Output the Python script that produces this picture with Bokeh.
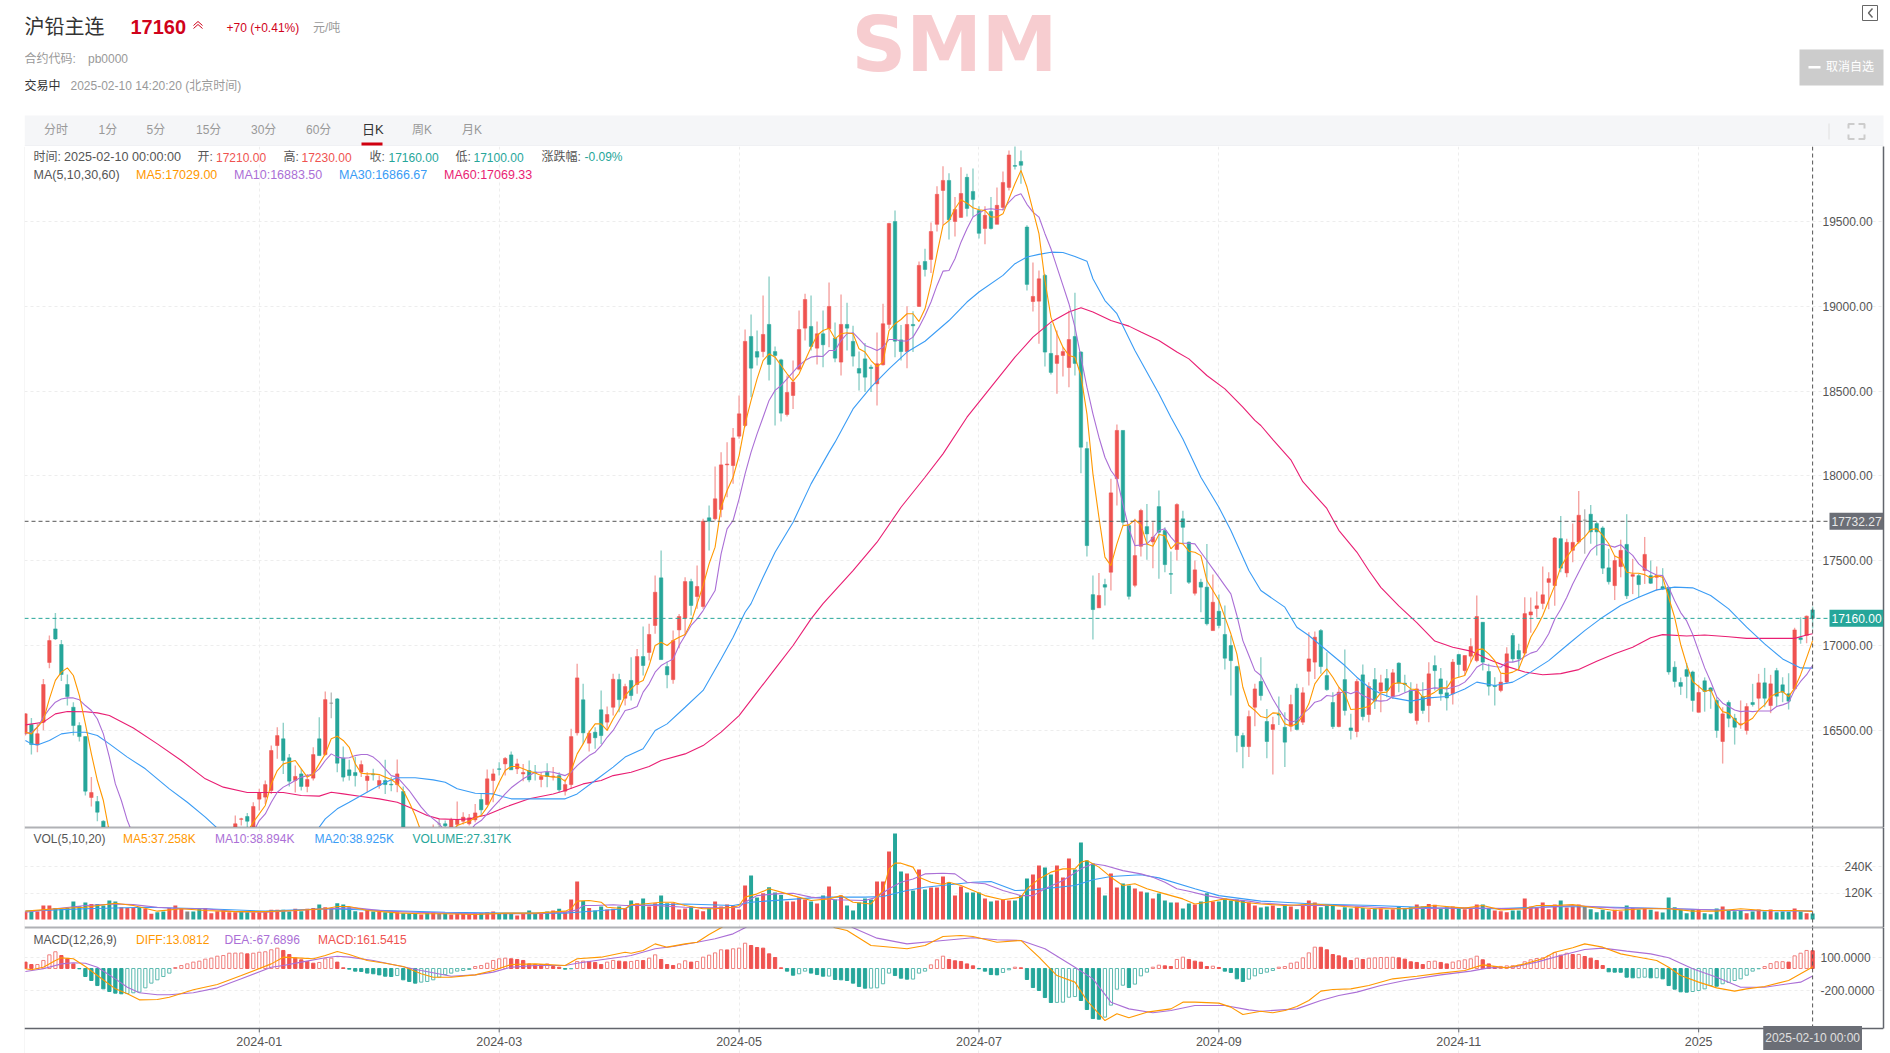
from bokeh.embed import file_html
from bokeh.resources import INLINE
from bokeh.plotting import figure
from bokeh.layouts import column
from bokeh.models import (Range1d, Label, Span, LinearAxis, Grid, FixedTicker, NumeralTickFormatter,
                          PrintfTickFormatter)

N = None
opens = [16479,16534,16414,16548,16900,17098,17006,16770,16636,16528,16463,16104,16080,15964,
 N,N,N,N,N,N,N,N,N,N,N,N,N,N,N,N,N,N,N,N,N,
 15929,15975,15992,15919,16094,16106,16145,16410,16450,16338,16204,16243,16169,16218,16450,16357,16660,16685,16336,16267,16251,16253,16204,16242,16175,16204,16182,16180,16139,
 N,N,N,N,15890,
 15948,15949,15920,15945,15964,15949,15972,16092,16062,16204,16273,16302,16355,16273,16243,16263,16254,16210,16253,16226,16233,16141,16180,16485,16680,16424,16489,16621,16548,16636,16799,16689,16794,
 16770,16935,16959,17118,17399,16876,16799,17092,17161,17377,17289,17230,17753,17747,17802,18065,18061,18234,18297,18822,18733,18733,18893,18733,18684,18362,18474,18629,18871,18881,18753,18838,18867,18812,18671,18893,18793,18633,18690,18641,18543,18655,18893,19500,18802,18733,18893,18999,19264,19276,19483,19683,19742,19500,19524,19760,19677,19565,19459,19559,19483,19583,19701,19830,19854,19467,19028,19030,19182,18722,18663,18710,18639,18822,18730,18161,
 17300,17222,17359,17432,17983,18268,17707,17355,17585,17701,17611,17819,17678,17424,17566,17747,17609,17308,17373,17344,17088,17202,17065,17000,16876,16469,16404,16636,16788,
 16552,16505,16596,16518,16524,16748,16548,16848,16902,17088,16823,16664,16522,16799,16514,16493,16827,16593,16799,16731,16805,16699,16896,16778,16738,16558,16699,16646,16882,16803,16721,16715,16947,16852,16937,16911,17137,16847,16764,16735,16784,17059,16970,16955,17180,17218,17248,17372,17353,17630,17428,17561,17610,17739,17774,17719,17693,17458,17353,17465,17596,17408,17412,17442,17412,17402,17347,17343,16872,16782,16858,16844,16606,16792,16750,16676,16434,16664,16571,16532,16499,16664,16689,16780,16646,16852,16768,16715,16744,17045,17059,17210]
closes = [16597,16416,16480,16770,17029,17039,16829,16699,16528,16463,16141,16133,16017,15919,
 N,N,N,N,N,N,N,N,N,N,N,N,N,N,N,N,N,N,N,N,N,
 15949,15978,15964,16051,16133,16180,16381,16469,16322,16200,16228,16169,16210,16357,16351,16681,16660,16306,16224,16233,16233,16298,16230,16238,16204,16180,16178,16243,15890,
 N,N,N,N,15905,
 15948,15937,15972,15972,15988,15984,16013,16031,16214,16243,16270,16334,16267,16302,16251,16208,16251,16228,16228,16230,16149,16180,16463,16809,16485,16483,16456,16469,16593,16801,16681,16758,16705,
 16935,16882,17065,17314,16917,16827,17029,17171,17377,17236,17348,17733,17733,17865,18065,18070,18224,18366,18793,18635,18700,18834,18657,18710,18370,18492,18553,18863,19040,18763,18838,18773,18999,18694,18893,18871,18706,18606,18582,18633,18661,18897,19488,18794,18733,18893,18885,19241,19217,19441,19660,19742,19510,19571,19665,19577,19630,19430,19536,19459,19595,19730,19892,19825,19831,19129,19058,19162,18730,18610,18710,18733,18804,18663,18169,17589,
 17212,17295,17344,17900,18268,17727,17290,17530,17796,17658,17639,17668,17477,17420,17831,17697,17373,17446,17344,17128,17255,17118,16925,16911,16469,16404,16581,16744,16705,
 16434,16534,16590,16430,16652,16505,16721,16921,17049,16876,16740,16522,16725,16617,16499,16788,16581,16758,16672,16780,16735,16839,16778,16770,16603,16744,16617,16833,16852,16715,16691,16902,16888,16941,16994,17171,16902,16760,16758,16784,16951,16921,16921,17188,17198,17234,17299,17394,17634,17456,17608,17608,17768,17739,17670,17670,17456,17376,17501,17561,17293,17418,17359,17537,17367,17412,17333,16844,16788,16759,16818,16676,16723,16729,16731,16499,16597,16571,16518,16538,16640,16652,16780,16689,16774,16701,16725,16672,17092,17035,17173,17160]
highs = [16600,16573,16537,16803,17059,17192,17033,16829,16666,16548,16463,16224,16112,15970,
 N,N,N,N,N,N,N,N,N,N,N,N,N,N,N,N,N,N,N,N,N,
 15998,15984,16013,16076,16155,16204,16410,16518,16544,16361,16292,16273,16243,16400,16577,16729,16723,16690,16404,16326,16342,16322,16253,16273,16233,16326,16224,16328,16169,
 N,N,N,N,15945,
 15978,15968,15984,16080,16017,16007,16066,16125,16269,16273,16312,16342,16375,16332,16302,16322,16296,16253,16306,16283,16253,16214,16509,16892,16774,16499,16518,16735,16640,16833,16833,16774,16931,
 16980,17112,17128,17412,17560,16905,17088,17186,17403,17393,17471,17747,17825,18055,18140,18199,18283,18474,18863,18952,18857,19064,19176,18763,18690,18592,18680,18975,19074,19064,18910,18975,19140,18905,19070,19021,18885,18733,18783,18655,18846,19015,19492,19565,18890,19000,18970,19264,19339,19494,19707,19825,19785,19644,19819,19781,19813,19590,19590,19644,19701,19795,19919,19945,19919,19477,19258,19211,19190,18897,18857,18759,18975,19080,18735,18201,
 17412,17428,17393,17983,18303,18268,17717,17747,17806,17835,17727,17914,17697,17554,17839,17795,17613,17501,17393,17599,17418,17300,17236,17059,16880,16485,16617,16774,16931,
 16626,16580,16699,16607,16709,16774,16754,17078,17082,17098,16960,16725,16754,16976,16597,16803,16888,16784,16868,16827,16862,16862,16902,16827,16784,16774,16784,16902,16941,16868,16794,16921,16951,16941,17043,17295,17137,16892,16813,16833,16990,17074,17010,17285,17283,17319,17466,17432,17640,17763,17630,17719,17911,17804,17828,17729,17703,17570,17531,17624,17774,17511,17422,17640,17501,17466,17456,17343,16907,16812,16897,16852,16769,16812,16755,16695,16636,16676,16597,16676,16660,16774,16833,16868,16827,16868,16813,16837,17104,17167,17177,17230]
lows = [16470,16357,16371,16500,16866,17033,16790,16646,16469,16434,16116,16051,15964,15880,
 N,N,N,N,N,N,N,N,N,N,N,N,N,N,N,N,N,N,N,N,N,
 15899,15939,15929,15910,16027,16066,16125,16332,16243,16169,16133,16145,16135,16204,16351,16351,16571,16253,16198,16204,16169,16224,16135,16204,16155,16125,16141,16135,15860,
 N,N,N,N,15870,
 15900,15900,15900,15933,15945,15939,15958,15998,16057,16076,16233,16233,16267,16243,16200,16194,16204,16165,16165,16204,16135,16116,16155,16469,16420,16375,16391,16420,16499,16587,16607,16646,16676,
 16715,16823,16911,17069,16917,16748,16774,16984,17059,17177,17216,17216,17560,17737,17756,17874,17953,18219,18287,18464,18651,18700,18562,18297,18321,18350,18395,18622,18798,18739,18657,18641,18759,18670,18592,18739,18645,18504,18494,18494,18415,18651,18867,18700,18680,18635,18730,18995,19176,19196,19441,19477,19394,19412,19524,19530,19530,19400,19365,19453,19483,19565,19683,19807,19723,19093,18969,18779,18645,18598,18484,18586,18523,18592,18016,17525,
 17035,17222,17236,17324,17825,17707,17271,17344,17525,17505,17456,17393,17432,17304,17501,17599,17363,17295,17196,17118,17088,17102,16858,16705,16371,16277,16342,16524,16676,
 16336,16239,16531,16283,16493,16499,16532,16764,16803,16833,16733,16508,16518,16587,16446,16459,16558,16548,16626,16607,16695,16685,16725,16725,16597,16534,16597,16548,16735,16675,16617,16652,16813,16823,16902,16902,16852,16705,16646,16725,16774,16902,16852,16941,17075,17165,17214,17214,17234,17432,17402,17491,17600,17541,17600,17531,17422,17359,17268,17402,17274,17303,17283,17363,17363,17323,17327,16828,16753,16709,16689,16610,16606,16610,16627,16456,16304,16518,16416,16509,16475,16640,16626,16636,16601,16640,16666,16622,16735,17010,17014,17100]

volumes = [36,36,36,64,64,53,49,53,82,61,78,71,71,64,87,82,56,53,53,56,49,26,33,36,53,64,53,36,36,49,
 53,29,38,41,33,33,36,33,33,33,36,44,44,44,36,49,38,49,53,68,56,49,74,68,56,38,33,44,36,38,
 33,33,33,29,29,29,23,33,33,29,29,23,30,26,26,29,30,33,36,29,30,29,18,30,41,29,29,36,41,49,
 36,91,173,84,53,41,59,46,49,59,53,87,74,96,59,74,109,74,74,46,50,59,46,38,53,82,59,68,64,46,
 155,201,100,120,147,123,112,82,82,100,91,82,73,109,150,91,109,64,41,78,96,91,173,173,310,392,219,210,132,228,
 137,146,146,196,169,109,150,123,123,123,96,82,87,91,87,87,109,187,205,246,237,205,246,192,278,228,351,269,255,146,
 109,210,146,164,155,141,128,123,96,119,87,78,78,50,73,68,82,120,82,82,96,87,91,87,78,64,55,59,64,53,
 68,59,47,68,87,78,56,68,64,44,56,50,59,53,47,50,50,44,47,59,53,56,68,59,71,67,49,56,59,50,
 47,50,68,68,53,41,38,33,41,41,96,59,56,78,47,68,87,55,59,68,59,47,33,44,36,44,38,64,52,46,
 52,44,36,32,100,56,44,29,46,46,29,24,50,59,41,38,41,29,36,46,36,46,33,36,35,50,36,29,27.3]
vol_dirs = ("rgrrrggggg" "grggggrrrg" "rrggrrrngg" "rrrrrrggrr" "rrrggrgrrg" "rnggggrrgr" "ggrgggrgrn" "grrrrrgrrg"
 "ggrrggrgrg" "rrrgrggrrg" "rgrgrrggrr" "rgrrgrrrrr" "rggrgggrrr" "rgrgrgrggg" "ggrrrggrgr" "grrrgrrggg"
 "rgrrrgggrr" "ggrrrggggr" "grrggrrgrg" "ggrggrggrg" "ggggrrggrg" "grgrrrgggr" "ggrgrgrgrg" "ggrgrrggrg"
 "rrrggrrrgg" "rrrrrrgrrr" "nggggrrgrg" "rgrggggggr" "gggrgggrgr" "grgggrgrg")

macd_hist = [58,36,36,73,124,152,118,88,42,-3,-73,-109,-155,-185,-209,-224,-230,-228,-221,-215,-176,-133,-103,-73,-42,9,27,42,58,67,
 85,94,112,118,139,140,141,133,139,148,152,170,185,164,127,94,79,64,48,55,88,94,58,6,-6,-24,-27,-42,-48,-58,
 -70,-73,-64,-103,-118,-133,-124,-118,-103,-79,-55,-42,-24,-18,-9,18,27,48,73,88,94,88,82,73,42,36,35,42,18,12,
 -6,-3,64,67,64,55,36,58,73,67,61,64,73,72,94,124,82,36,27,42,70,58,64,103,121,142,170,169,179,185,
 230,209,191,185,133,100,6,-24,-61,-48,-24,-42,-55,-70,-69,-100,-103,-109,-133,-164,-179,-178,-176,-139,-42,-64,-88,-97,-96,-42,
 -24,33,79,112,82,70,64,42,24,-3,-24,-55,-58,-36,-12,12,6,-100,-173,-200,-264,-309,-308,-306,-261,-255,-291,-373,-455,-461,
 -442,-333,-188,-152,-173,-142,-67,-33,12,30,24,18,82,103,82,67,58,18,21,9,-24,-36,-94,-118,-97,-67,-45,-33,-18,12,
 18,48,58,97,142,194,193,170,127,115,97,73,94,82,94,97,100,101,102,97,85,61,55,36,64,67,55,42,58,70,
 79,88,112,79,42,18,19,24,25,30,61,79,91,97,115,145,121,139,127,128,109,94,73,27,-30,-33,-34,-79,-85,-84,
 -79,-85,-84,-94,-155,-188,-212,-215,-209,-200,-185,-155,-161,-139,-127,-109,-94,-61,-24,-3,18,45,61,62,58,115,139,164,161.54]

ma5_line = [(0,16489),(1,16479),(3,16558),(4,16685),(5,16794),(6,16843),(7,16868),(8,16823),(9,16705),(10,16538),(11,16361),(12,16204),(13,16086),(14,15900),(15,N),
 (37,15900),(38,15958),(40,16057),(41,16184),(42,16263),(43,16302),(45,16322),(46,16273),(47,16224),(48,16243),(49,16302),(50,16361),(51,16450),(52,16465),(53,16440),(54,16400),(55,16302),(56,16247),(57,16243),(58,16243),(59,16239),(60,16224),(61,16210),(62,16184),(63,16145),(64,16076),(65,15998),(66,15900),(67,N),
 (71,15900),(72,15939),(73,15952),(74,15964),(75,15984),(76,15998),(77,16047),(78,16116),(79,16194),(80,16263),(81,16287),(82,16287),(83,16273),(84,16259),(85,16249),(86,16233),(87,16230),(88,16224),(89,16224),(90,16200),(91,16263),(92,16361),(93,16420),(94,16489),(95,16538),(96,16538),(97,16499),(98,16567),(99,16626),(100,16705),
 (101,16744),(102,16778),(103,16794),(104,16882),(105,17000),(106,17019),(107,17000),(108,17029),(109,17049),(110,17065),(111,17137),(112,17245),(113,17353),(114,17481),(115,17580),(116,17815),(117,17914),(118,17992),(119,18120),(120,18307),(121,18445),(122,18572),(123,18680),(124,18720),(125,18700),(126,18651),(127,18602),(128,18559),(129,18602),(130,18680),(131,18759),(132,18828),(133,18857),(134,18871),(135,18808),(136,18838),(137,18844),(138,18838),(139,18749),(140,18730),(141,18680),(142,18645),(143,18671),(144,18857),(145,18897),(146,18922),(147,18956),(148,18956),(149,18910),(150,18985),(151,19133),(152,19310),(153,19477),(154,19506),(155,19575),(156,19628),(157,19608),(158,19581),(159,19569),(160,19565),(161,19526),(162,19526),(163,19545),(164,19634),(165,19722),(166,19801),(167,19703),(168,19565),(169,19428),(170,19152),(171,18936),(172,18838),(173,18759),(174,18710),(175,18700),(176,18592),(177,18366),(178,18012),(179,17756),(180,17521),(181,17471),(182,17599),(183,17707),(184,17711),(185,17741),(186,17711),(187,17599),(188,17585),(189,17654),(190,17648),(191,17570),(192,17607),(193,17599),(194,17556),(195,17550),(196,17530),(197,17383),(198,17324),(199,17265),(200,17167),(201,17069),(202,16951),(203,16754),(204,16646),(205,16617),(206,16581),(207,16573),(208,16603),(209,16601),(210,16538),(211,16526),(212,16538),(213,16587),(214,16656),(215,16774),(216,16823),(217,16862),(218,16813),(219,16754),(220,16715),(221,16623),(222,16626),(223,16632),(224,16640),(225,16676),(226,16721),(227,16725),(228,16774),(229,16780),(230,16774),(231,16744),(232,16740),(233,16695),(234,16705),(235,16725),(236,16750),(237,16750),(238,16803),(239,16813),(240,16823),(241,16902),(242,16974),(243,16980),(244,16951),(245,16911),(246,16837),(247,16833),(248,16843),(249,16862),(250,16951),(251,17049),(252,17108),(253,17177),(254,17265),(255,17353),(256,17462),(257,17521),(258,17570),(259,17610),(260,17640),(261,17683),(262,17689),(263,17650),(264,17600),(265,17527),(266,17511),(267,17432),(268,17426),(269,17426),(270,17418),(271,17398),(272,17412),(273,17402),(274,17283),(275,17165),(276,17006),(277,16887),(278,16788),(279,16759),(280,16729),(281,16739),(282,16660),(283,16610),(284,16600),(285,16561),(286,16531),(287,16551),(288,16571),(289,16620),(290,16650),(291,16699),(292,16719),(293,16729),(294,16699),(295,16749),(296,16828),(297,16927),(298,17029)]
ma10_line = [(0,16483),(1,16489),(2,16518),(3,16577),(4,16626),(5,16666),(6,16685),(7,16691),(8,16691),(9,16680),(10,16646),(11,16617),(12,16567),(13,16479),(14,16342),(15,16184),(16,16086),(17,15968),(18,15880),(19,N),
 (38,15900),(39,15968),(40,16007),(41,16076),(42,16135),(43,16165),(44,16184),(45,16204),(46,16224),(47,16233),(48,16243),(49,16273),(50,16322),(51,16361),(52,16342),(53,16336),(54,16338),(55,16351),(56,16357),(57,16357),(58,16342),(59,16312),(60,16273),(61,16233),(62,16224),(63,16184),(64,16145),(65,16096),(66,16047),(67,16007),(68,15978),(69,15949),(70,15900),(71,N),
 (74,15900),(75,15945),(76,15968),(77,16007),(78,16047),(79,16086),(80,16125),(81,16161),(82,16188),(83,16214),(84,16233),(85,16253),(86,16253),(87,16257),(88,16253),(89,16243),(90,16233),(91,16253),(92,16292),(93,16322),(94,16351),(95,16371),(96,16410),(97,16459),(98,16499),(99,16558),(100,16617),
 (101,16626),(102,16640),(103,16725),(104,16774),(105,16843),(106,16882),(107,16902),(108,16921),(109,17000),(110,17059),(111,17118),(112,17157),(113,17206),(114,17265),(115,17324),(116,17540),(117,17688),(118,17737),(119,17865),(120,18012),(121,18140),(122,18248),(123,18346),(124,18445),(125,18504),(126,18533),(127,18572),(128,18612),(129,18651),(130,18680),(131,18700),(132,18706),(133,18704),(134,18739),(135,18739),(136,18798),(137,18838),(138,18844),(139,18808),(140,18769),(141,18755),(142,18739),(143,18759),(144,18804),(145,18804),(146,18795),(147,18795),(148,18818),(149,18877),(150,18946),(151,19025),(152,19123),(153,19207),(154,19211),(155,19280),(156,19378),(157,19457),(158,19526),(159,19549),(160,19571),(161,19575),(162,19571),(163,19569),(164,19614),(165,19650),(166,19663),(167,19601),(168,19555),(169,19526),(170,19428),(171,19339),(172,19231),(173,19123),(174,19015),(175,18877),(176,18700),(177,18523),(178,18366),(179,18228),(180,18110),(181,18032),(182,17983),(183,17835),(184,17688),(185,17589),(186,17593),(187,17599),(188,17635),(189,17678),(190,17688),(191,17639),(192,17599),(193,17603),(194,17603),(195,17599),(196,17550),(197,17501),(198,17452),(199,17403),(200,17353),(201,17304),(202,17177),(203,17029),(204,16941),(205,16852),(206,16823),(207,16754),(208,16685),(209,16626),(210,16573),(211,16548),(212,16558),(213,16597),(214,16626),(215,16666),(216,16676),(217,16705),(218,16701),(219,16719),(220,16729),(221,16715),(222,16731),(223,16705),(224,16691),(225,16676),(226,16672),(227,16676),(228,16699),(229,16705),(230,16721),(231,16735),(232,16735),(233,16738),(234,16744),(235,16750),(236,16748),(237,16744),(238,16754),(239,16764),(240,16784),(241,16823),(242,16872),(243,16892),(244,16882),(245,16876),(246,16872),(247,16902),(248,16902),(249,16911),(250,16935),(251,16955),(252,16966),(253,17010),(254,17069),(255,17155),(256,17214),(257,17283),(258,17363),(259,17432),(260,17501),(261,17561),(262,17590),(263,17600),(264,17590),(265,17580),(266,17594),(267,17561),(268,17531),(269,17481),(270,17452),(271,17432),(272,17416),(273,17412),(274,17343),(275,17264),(276,17194),(277,17145),(278,17066),(279,16967),(280,16868),(281,16788),(282,16699),(283,16660),(284,16640),(285,16620),(286,16610),(287,16614),(288,16610),(289,16614),(290,16614),(291,16614),(292,16640),(293,16650),(294,16664),(295,16739),(296,16788),(297,16828),(298,16883.5)]
ma30_line = [(0,16440),(1,16420),(2,16414),(4,16440),(6,16479),(8,16489),(10,16489),(12,16469),(14,16420),(17,16342),(20,16273),(22,16214),(24,16155),(27,16076),(30,15988),(33,15890),(34,N),
 (48,15880),(50,15978),(52,16037),(54,16076),(56,16116),(58,16155),(60,16194),(62,16220),(65,16220),(68,16208),(70,16194),(72,16155),(75,16129),(78,16125),(81,16096),(85,16096),(90,16096),(92,16125),(95,16204),(98,16283),(100,16342),(103,16391),(105,16499),(107,16538),(110,16636),(113,16735),(116,16921),(118,17049),(120,17196),(121,17247),(123,17403),(125,17550),(128,17727),(131,17953),(134,18140),(135,18199),(138,18395),(141,18523),(144,18631),(147,18730),(150,18794),(154,18916),(157,19025),(159,19084),(163,19182),(165,19251),(167,19290),(169,19306),(171,19319),(173,19317),(175,19294),(177,19266),(178,19162),(180,19034),(182,18956),(185,18739),(189,18484),(191,18346),(193,18218),(196,17992),(199,17815),(201,17678),(204,17442),(206,17324),(208,17275),(210,17226),(212,17108),(214,17059),(216,17000),(218,16941),(220,16882),(222,16813),(224,16754),(226,16715),(228,16691),(231,16672),(234,16691),(237,16699),(240,16744),(242,16784),(245,16764),(248,16784),(251,16843),(254,16911),(257,17000),(260,17088),(263,17167),(266,17236),(269,17285),(272,17328),(275,17344),(278,17340),(281,17295),(284,17216),(287,17108),(290,17010),(293,16921),(296,16868),(298,16866.67)]
ma60_line = [(0,16532),(3,16548),(5,16597),(7,16611),(10,16609),(12,16603),(14,16587),(18,16514),(22,16420),(26,16322),(30,16214),(33,16165),(37,16133),(40,16133),(43,16133),(46,16116),(49,16112),(51,16135),(53,16125),(56,16110),(59,16096),(62,16076),(64,16047),(67,15998),(69,15978),(72,15974),(74,15978),(77,16002),(80,16047),(84,16096),(88,16125),(90,16145),(93,16184),(96,16204),(98,16233),(101,16253),(104,16287),(106,16322),(110,16361),(113,16410),(116,16489),(119,16587),(122,16725),(125,16862),(128,17000),(131,17157),(133,17247),(138,17442),(142,17609),(146,17815),(150,17992),(153,18130),(157,18346),(161,18523),(165,18700),(168,18818),(171,18907),(174,18966),(176,18991),(178,18966),(181,18916),(184,18883),(186,18848),(189,18798),(192,18730),(194,18690),(197,18592),(200,18513),(203,18405),(205,18327),(206,18297),(208,18214),(211,18095),(213,17966),(215,17887),(217,17808),(219,17679),(222,17551),(224,17442),(226,17343),(229,17234),(232,17135),(235,17026),(238,16990),(241,16967),(244,16917),(247,16877),(250,16844),(253,16828),(256,16834),(259,16858),(262,16907),(265,16951),(268,16990),(271,17046),(273,17064),(277,17056),(280,17062),(284,17052),(287,17042),(291,17042),(295,17042),(297,17062),(298,17069.33)]

vol_ma5 = [(0,38),(5,49),(10,56),(15,74),(18,64),(22,38),(26,49),(30,41),(35,36),(40,36),(45,41),(50,49),(52,59),(54,59),(57,41),(62,30),(66,26),(70,26),(75,23),(80,29),(85,29),(90,38),(91,49),(92,84),(94,87),(96,79),(97,56),(100,49),(101,68),(103,71),(106,79),(108,79),(110,64),(113,49),(115,49),(118,56),(119,64),(120,102),(122,117),(124,140),(126,125),(128,109),(131,87),(134,94),(136,109),(138,79),(141,71),(142,102),(143,132),(144,231),(145,257),(146,257),(148,239),(149,193),(151,170),(153,160),(154,170),(156,155),(158,132),(160,109),(163,90),(166,102),(167,140),(169,185),(171,216),(173,231),(175,231),(176,261),(177,269),(179,239),(181,193),(183,155),(185,163),(187,140),(190,117),(193,94),(195,71),(197,79),(200,94),(203,79),(206,71),(210,64),(215,71),(220,59),(225,49),(230,49),(235,64),(240,52),(243,64),(246,44),(250,49),(252,64),(255,64),(258,68),(261,56),(265,41),(270,49),(274,49),(278,38),(282,38),(286,49),(290,41),(295,41),(298,37.26)]
vol_ma10 = [(0,33),(5,49),(10,64),(15,71),(18,68),(22,56),(26,49),(30,49),(35,36),(40,33),(45,41),(50,49),(55,53),(60,38),(65,33),(70,29),(75,26),(85,26),(90,33),(92,44),(93,64),(95,64),(98,67),(100,64),(105,64),(110,56),(115,53),(119,56),(120,79),(122,109),(125,117),(128,120),(131,102),(135,90),(140,87),(142,102),(144,140),(146,170),(148,185),(150,208),(153,211),(155,208),(157,170),(160,163),(163,132),(166,109),(168,109),(170,140),(173,178),(176,231),(178,254),(180,246),(183,223),(186,208),(188,193),(190,170),(192,140),(194,129),(197,109),(200,94),(204,84),(206,75),(212,64),(220,64),(230,49),(240,53),(250,49),(258,64),(265,53),(275,49),(285,41),(298,38.89)]
vol_ma20 = [(0,38),(10,49),(20,56),(30,49),(40,38),(50,49),(60,41),(70,33),(80,29),(90,29),(92,33),(100,49),(101,64),(110,71),(118,64),(121,79),(133,102),(140,102),(143,105),(147,132),(150,147),(158,170),(161,173),(165,132),(168,135),(175,155),(178,181),(181,196),(186,204),(189,190),(195,140),(199,109),(206,84),(215,71),(225,64),(235,53),(245,49),(255,59),(265,56),(275,49),(285,41),(298,38.93)]

diff_line = [(0,-3),(1,-12),(3,12),(5,73),(6,97),(8,88),(10,18),(12,-64),(15,-185),(17,-230),(19,-285),(22,-282),(24,-261),(28,-194),(32,-145),(36,-64),(41,42),(43,103),(46,94),(48,88),(50,118),(52,155),(54,127),(57,73),(60,48),(63,18),(66,-48),(68,-79),(71,-79),(75,-58),(78,-18),(81,36),(85,42),(90,27),(92,88),(96,103),(100,148),(101,139),(103,164),(105,224),(107,194),(110,224),(112,239),(114,309),(116,370),(117,406),(118,N),(134,406),(135,370),(137,345),(141,209),(143,200),(147,179),(150,209),(153,291),(156,300),(158,291),(162,239),(166,255),(169,103),(172,-64),(175,-124),(177,-291),(180,-473),(182,-412),(184,-448),(187,-397),(191,-367),(193,-306),(195,-306),(199,-315),(201,-351),(203,-418),(206,-388),(208,-403),(210,-382),(212,-345),(214,-291),(216,-206),(218,-191),(221,-185),(224,-155),(228,-94),(232,-70),(236,-42),(240,-18),(243,33),(247,6),(250,42),(253,88),(255,148),(258,188),(260,224),(263,194),(266,133),(269,103),(272,73),(274,12),(276,-64),(279,-124),(282,-176),(285,-206),(287,-185),(290,-164),(294,-109),(296,-48),(298,13.08)]
dea_line = [(0,-27),(3,-3),(6,42),(8,52),(10,48),(12,12),(15,-94),(17,-170),(19,-221),(22,-239),(24,-239),(28,-221),(32,-176),(36,-94),(41,12),(43,27),(46,58),(50,97),(52,112),(54,103),(58,73),(62,27),(66,-18),(71,-70),(75,-58),(78,-33),(81,12),(85,27),(90,27),(92,48),(96,79),(100,109),(101,118),(105,179),(108,200),(112,239),(115,270),(118,315),(120,370),(121,406),(122,N),(137,406),(138,370),(142,276),(147,224),(153,255),(158,279),(162,261),(166,255),(170,179),(175,12),(178,-94),(181,-306),(184,-367),(188,-403),(191,-382),(195,-336),(200,-336),(204,-376),(206,-388),(212,-367),(216,-291),(219,-245),(222,-215),(226,-155),(230,-109),(236,-58),(241,-24),(244,6),(248,12),(252,58),(256,118),(260,173),(263,185),(267,158),(271,133),(274,97),(278,-3),(282,-79),(286,-170),(290,-170),(294,-139),(296,-124),(298,-67.69)]

date_ticks = [39, 79, 119, 159, 199, 239, 279]
date_labels = ["2024-01", "2024-03", "2024-05", "2024-07", "2024-09", "2024-11", "2025"]
price_ticks = [16500, 17000, 17500, 18000, 18500, 19000, 19500]
vol_ticks = [120, 240]
macd_ticks = [100, -200]
LAST_PRICE = 17160.0
MARK_PRICE = 17732.27

n = len(volumes)
assert all(len(a) == n for a in (opens, closes, highs, lows, vol_dirs, macd_hist)), [len(a) for a in (opens, closes, highs, lows, vol_dirs, macd_hist, volumes)]

RED, GREEN, GRAY = "#ef5350", "#26a69a", "#888888"
RED_L, GREEN_L, GRAY_L = "#f5a3a1", "#8fd0c8", "#bdbdbd"
RED_M, GREEN_M = "#f07f7d", "#5cbab0"
ORANGE, PURPLE, BLUE, PINK = "#ff9800", "#ab6fd6", "#3a9cf5", "#e91e73"
AXIS = "#62656c"
TXT = "#555555"
FONT = "Liberation Sans, Noto Sans CJK SC"

X0, X1 = -0.15, 309.82
WIDTH = 1890
BAR = 0.66


def sizes(fig_h):
    return dict(width=WIDTH, height=fig_h, x_range=Range1d(X0, X1), min_border_left=24, min_border_right=7,
                min_border_top=0, min_border_bottom=0, toolbar_location=None, output_backend="svg",
                x_axis_location=None, y_axis_location=None, outline_line_color=None, background_fill_color="white",
                border_fill_color="white")


def unzip(points):
    return [a for a, _ in points], [float("nan") if b is None else b for _, b in points]


def add_grids(p, yticks, bounds=None):
    p.grid.visible = False
    kw = dict(grid_line_color="#ededed", grid_line_dash=[3, 3], grid_line_width=1)
    xg = Grid(dimension=0, ticker=FixedTicker(ticks=date_ticks), **kw)
    if bounds:
        xg.bounds = bounds
    p.add_layout(xg)
    p.add_layout(Grid(dimension=1, ticker=FixedTicker(ticks=yticks), **kw))
    p.add_layout(Span(location=X0, dimension="height", line_color="#eeeeee", line_width=1))


def right_axis(p, ticks, formatter, standoff, bounds=None):
    ax = LinearAxis(ticker=FixedTicker(ticks=ticks), formatter=formatter,
                    axis_line_color=AXIS, axis_line_width=1.5, major_tick_line_color=None, minor_tick_line_color=None,
                    major_label_text_font=FONT, major_label_text_font_size="12px", major_label_text_color=TXT,
                    major_label_standoff=standoff)
    if bounds:
        ax.bounds = bounds
    p.add_layout(ax, "right")


def txt(p, s, px, py, top, color=TXT, size="12px", style="normal", align="left"):
    p.add_layout(Label(x=px - 24, y=top - py, x_units="screen", y_units="screen", text=s, text_color=color,
                       text_font=FONT, text_font_size=size, text_font_style=style, text_align=align,
                       text_baseline="middle"))


# ---------- header ----------
hd = figure(width=WIDTH, height=146, x_range=Range1d(24, 1883), y_range=Range1d(146, 0), min_border_left=24,
            min_border_right=7, min_border_top=0, min_border_bottom=0,
            toolbar_location=None, output_backend="svg", x_axis_location=None, y_axis_location=None,
            outline_line_color=None, background_fill_color="white", border_fill_color="white")
hd.grid.visible = False


def h(s, x, y, color="#999999", size="12px", style="normal", align="left", font=FONT, base="middle"):
    hd.add_layout(Label(x=x, y=y, text=s, text_color=color, text_font=font, text_font_size=size,
                        text_font_style=style, text_align=align, text_baseline=base))


hd.quad(left=[24], right=[1884], top=[115], bottom=[146], color="#f5f6f8", line_color=None)
hd.segment([24], [145.5], [1884], [145.5], line_color="#ebedf0", line_width=1)
hd.quad(left=[361], right=[382], top=[142], bottom=[145], color="#d0000f", line_color=None)
hd.quad(left=[1799], right=[1884], top=[49], bottom=[85], color="#cccccc", line_color=None)
hd.quad(left=[1808], right=[1820], top=[65.5], bottom=[68], color="white", line_color=None)
hd.multi_line([[1862, 1862, 1877, 1877, 1862], [1872, 1868, 1872], [193, 197.5, 202], [193, 197.5, 202]],
              [[20, 5, 5, 20, 20], [8, 12.5, 17], [25, 21, 25], [28, 24, 28]],
              line_color=["#666666", "#666666", "#d0021b", "#d0021b"], line_width=[1, 1.5, 1, 1])
hd.multi_line([[1848, 1848, 1854], [1858, 1864, 1864], [1848, 1848, 1854], [1858, 1864, 1864], [1828.5, 1828.5]],
              [[128, 123.5, 123.5], [123.5, 123.5, 128], [134, 138.5, 138.5], [138.5, 138.5, 134], [123, 139]],
              line_color=["#cccccc"] * 4 + ["#e0e0e0"], line_width=[2, 2, 2, 2, 1])
h("SMM", 954, 43.5, color="#f7cdd0", size="76px", style="bold", align="center", font="DejaVu Sans", base="alphabetic")
h("沪铅主连", 24, 26, color="#333333", size="20px")
h("17160", 130, 26, color="#d0021b", size="20px", style="bold")
h("+70 (+0.41%)", 226, 27, color="#d0021b")
h("元/吨", 312.5, 27)
h("合约代码:", 24, 58)
h("pb0000", 87.5, 58)
h("交易中", 24, 85.5, color="#333333")
h("2025-02-10 14:20:20 (北京时间)", 70, 85.5)
for s, x in zip(["分时", "1分", "5分", "15分", "30分", "60分"], [43.5, 98, 146, 195.5, 250.5, 305.5]):
    h(s, x, 129)
h("日K", 361.5, 129, color="#333333", size="13px")
h("周K", 411.5, 129)
h("月K", 461.5, 129)
h("取消自选", 1825.5, 66, color="white")

# ---------- main ----------
TOP, BOT = 146, 827
main = figure(y_range=Range1d(15927, 19942), **sizes(BOT - TOP))
add_grids(main, price_ticks)
idx = [i for i in range(n) if opens[i] is not None]
o = [opens[i] for i in idx]
c = [closes[i] for i in idx]
hi = [highs[i] for i in idx]
lo = [lows[i] for i in idx]
body = [RED if b > a else GRAY if b == a else GREEN for a, b in zip(o, c)]
wick = [RED_L if b > a else GRAY_L if b == a else GREEN_L for a, b in zip(o, c)]
main.segment(idx, hi, idx, lo, line_color=wick, line_width=1.4)
main.vbar(x=idx, top=[max(a, b) for a, b in zip(o, c)], bottom=[min(a, b) for a, b in zip(o, c)], width=BAR - 0.08,
          fill_color=body, line_color=body, line_width=0.5)
for pts, col in ((ma60_line, PINK), (ma30_line, BLUE), (ma10_line, PURPLE), (ma5_line, ORANGE)):
    xs, ys = unzip(pts)
    main.line(xs, ys, line_color=col, line_width=1.1)
main.add_layout(Span(location=MARK_PRICE, dimension="width", line_color="#555555", line_width=1, line_dash=[4, 3]))
main.add_layout(Span(location=LAST_PRICE, dimension="width", line_color=GREEN, line_width=1, line_dash=[4, 3]))
main.add_layout(Span(location=n - 1, dimension="height", line_color="#555555", line_width=1, line_dash=[4, 3]))
main.add_layout(Span(location=15927, dimension="width", line_color=AXIS, line_width=1.5))
right_axis(main, price_ticks, NumeralTickFormatter(format="0.00"), -67)
main.add_layout(Label(x=1829 - 24, y=MARK_PRICE, x_units="screen", y_units="data", text="17732.27", text_color="#e8e8e8",
                      text_font=FONT, text_font_size="12px", text_baseline="middle", background_fill_color="#6b6e76",
                      padding=(2, 4)))
main.add_layout(Label(x=1829 - 24, y=LAST_PRICE, x_units="screen", y_units="data", text="17160.00", text_color="white",
                      text_font=FONT, text_font_size="12px", text_baseline="middle", background_fill_color=GREEN,
                      padding=(2, 4)))
row1 = 156.7 - TOP
L = lambda s, x, y, col=TXT, size="12px": txt(main, s, x, y + TOP, BOT, col, size)
L("时间:", 33, row1)
L("2025-02-10 00:00:00", 63.5, row1, TXT, "12.6px")
for pre, x1, val, x2, col in (("开:", 197, "17210.00", 215.5, RED), ("高:", 283, "17230.00", 301, RED),
                              ("收:", 369, "17160.00", 388, GREEN), ("低:", 455, "17100.00", 473, GREEN),
                              ("涨跌幅:", 541, "-0.09%", 584, GREEN)):
    L(pre, x1, row1)
    L(val, x2, row1, col)
row2 = 174.7 - TOP
L("MA(5,10,30,60)", 33, row2, TXT, "12.5px")
L("MA5:17029.00", 135.5, row2, ORANGE, "12.5px")
L("MA10:16883.50", 233.5, row2, PURPLE, "12.5px")
L("MA30:16866.67", 338.5, row2, BLUE, "12.5px")
L("MA60:17069.33", 443.5, row2, PINK, "12.5px")

# ---------- volume ----------
vt, vb = 827, 927
vol = figure(y_range=Range1d(-36.5, 419.7), **sizes(vb - vt))
add_grids(vol, vol_ticks)
vcol = [{"r": RED, "g": GREEN, "n": GRAY}[d] for d in vol_dirs]
vol.vbar(x=list(range(n)), top=volumes, bottom=0, width=BAR, fill_color=vcol, line_color=None)
for pts, col in ((vol_ma20, BLUE), (vol_ma10, PURPLE), (vol_ma5, ORANGE)):
    xs, ys = unzip(pts)
    vol.line(xs, ys, line_color=col, line_width=1.1)
vol.add_layout(Span(location=n - 1, dimension="height", line_color="#555555", line_width=1, line_dash=[4, 3]))
vol.add_layout(Span(location=419.7, dimension="width", line_color=AXIS, line_width=1.5))
vol.add_layout(Span(location=-36.5, dimension="width", line_color=AXIS, line_width=1.5))
right_axis(vol, vol_ticks, PrintfTickFormatter(format="%dK"), -45)
for s, x, col in (("VOL(5,10,20)", 33, TXT), ("MA5:37.258K", 122.5, ORANGE), ("MA10:38.894K", 214.5, PURPLE),
                  ("MA20:38.925K", 314, BLUE), ("VOLUME:27.317K", 412, GREEN)):
    txt(vol, s, x, 838, vb, col)

# ---------- MACD (frame runs to the page foot; the date strip lies inside it) ----------
mt, mb = 927, 1053
M_TOP, M_AXIS = 372.7, -545.0
M_BOT = M_TOP - (mb - mt) / 0.11
md = figure(y_range=Range1d(M_BOT, M_TOP), **sizes(mb - mt))
add_grids(md, macd_ticks, bounds=(M_AXIS, M_TOP))
tops, bots, fills, lines = [], [], [], []
for i, v in enumerate(macd_hist):
    rising = i > 0 and v >= macd_hist[i - 1]
    solid = RED if v >= 0 else GREEN
    mid = RED_M if v >= 0 else GREEN_M
    tops.append(max(v, 0))
    bots.append(min(v, 0))
    fills.append("white" if rising else solid)
    lines.append(mid if rising else solid)
md.vbar(x=list(range(n)), top=tops, bottom=bots, width=BAR - 0.12, fill_color=fills, line_color=lines, line_width=1)
for pts, col in ((dea_line, PURPLE), (diff_line, ORANGE)):
    xs, ys = unzip(pts)
    md.line(xs, ys, line_color=col, line_width=1.1)
md.add_layout(Span(location=M_TOP, dimension="width", line_color=AXIS, line_width=1.5))
md.add_layout(Span(location=M_AXIS, dimension="width", line_color=AXIS, line_width=1.5))
md.line([n - 1, n - 1], [M_AXIS, M_TOP], line_color="#555555", line_width=1, line_dash=[4, 3])
md.segment(date_ticks, [M_AXIS] * len(date_ticks), date_ticks, [M_AXIS - 36] * len(date_ticks), line_color=AXIS)
xa = LinearAxis(ticker=FixedTicker(ticks=date_ticks),
                major_label_overrides={t: s for t, s in zip(date_ticks, date_labels)},
                axis_line_color=None, major_tick_line_color=None, minor_tick_line_color=None,
                major_label_text_font=FONT, major_label_text_font_size="12.5px",
                major_label_text_color=TXT, major_label_standoff=-23)
md.add_layout(xa, "below")
right_axis(md, macd_ticks, NumeralTickFormatter(format="0.0000"), -69, bounds=(M_AXIS, M_TOP))
for s, x, col in (("MACD(12,26,9)", 33, TXT), ("DIFF:13.0812", 135.5, ORANGE), ("DEA:-67.6896", 224, PURPLE),
                  ("MACD:161.5415", 317.5, RED)):
    txt(md, s, x, 939, mb, col)
md.add_layout(Label(x=n - 1, y=M_AXIS - 86, text="2025-02-10 00:00",
                    text_color="#e0e0e0", text_font=FONT, text_font_size="12px", text_align="center",
                    text_baseline="middle", background_fill_color="#6b6e76", padding=(2, 5)))

page = column(hd, main, vol, md, spacing=0)
open("out.html", "w").write(file_html(page, INLINE))
